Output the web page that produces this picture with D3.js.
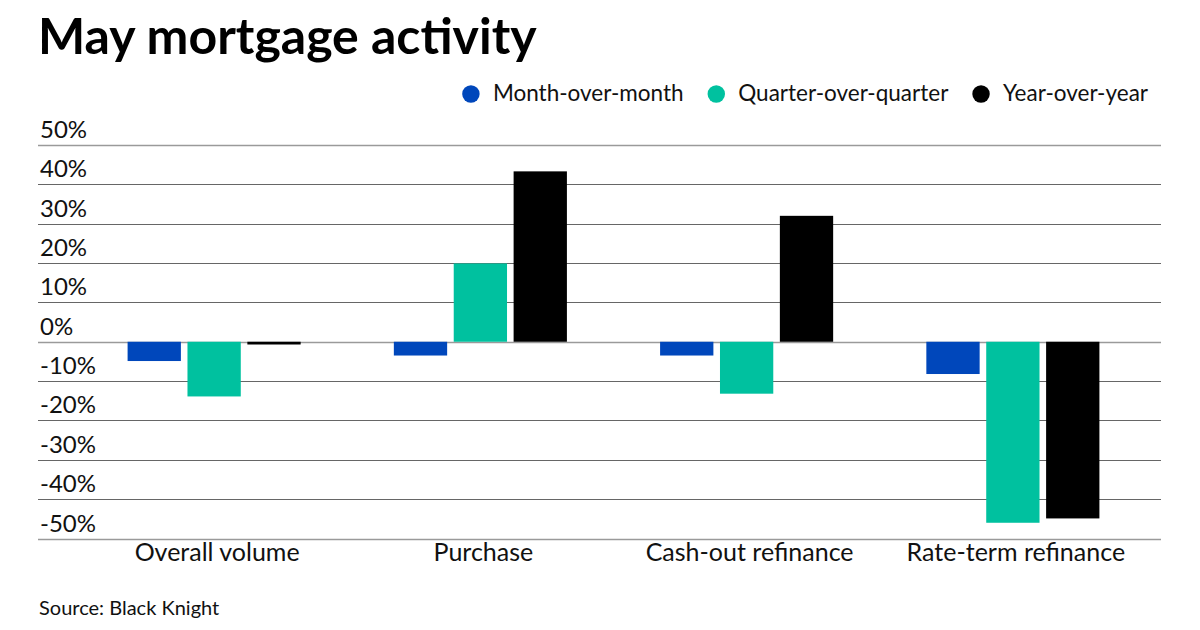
<!DOCTYPE html>
<html>
<head>
<meta charset="utf-8">
<script src="https://cdn.jsdelivr.net/npm/d3@7"></script>
<style>
  body { margin: 0; background: #fff; }
  svg { display: block; font-family: Lato, "Open Sans", sans-serif; }
</style>
</head>
<body>
<svg id="chart"></svg>
<script>
const categories = ["Overall volume", "Purchase", "Cash-out refinance", "Rate-term refinance"];
const seriesNames = ["Month-over-month", "Quarter-over-quarter", "Year-over-year"];
const seriesColors = ["#0047bb", "#00c19f", "#000000"];
const momValues = [-4.9, -3.5, -3.5, -8.2];
const qoqValues = [-13.9, 19.9, -13.2, -46.0];
const yoyValues = [-0.7, 43.3, 32.0, -44.9];
const yTicks = [50, 40, 30, 20, 10, 0, -10, -20, -30, -40, -50];

const ctx = {
  width: 1200,
  height: 630,
  gridLeft: 38,
  gridRight: 1161,
  yTop: 145,
  yBottom: 538.5
};

const svg = d3.select("#chart")
  .attr("width", ctx.width)
  .attr("height", ctx.height);

const rows = categories.map((c, i) => ({
  category: c,
  values: [momValues[i], qoqValues[i], yoyValues[i]]
}));

const y = d3.scaleLinear()
  .domain([-50, 50])
  .range([ctx.yBottom, ctx.yTop]);

const x0 = d3.scaleBand()
  .domain(categories)
  .range([81, 1146])
  .paddingInner(0.35)
  .paddingOuter(0.175);

const x1 = d3.scaleBand()
  .domain(seriesNames)
  .range([0, x0.bandwidth()])
  .paddingInner(0.11);

// title
svg.append("text")
  .attr("x", 38)
  .attr("y", 54)
  .style("font-size", "50px")
  .style("font-weight", "bold")
  .attr("fill", "#000")
  .text("May mortgage activity");

// legend, right aligned
const legend = svg.append("g");
let lx = 1148;
for (let i = seriesNames.length - 1; i >= 0; i--) {
  const t = legend.append("text")
    .attr("y", 101)
    .style("font-size", "22.5px")
    .attr("fill", "#111")
    .text(seriesNames[i]);
  const w = t.node().getComputedTextLength();
  t.attr("x", lx - w);
  legend.append("circle")
    .attr("cx", lx - w - 22)
    .attr("cy", 94)
    .attr("r", 8.7)
    .attr("fill", seriesColors[i]);
  lx = lx - w - 22 - 8.7 - 24;
}

// gridlines + tick labels
svg.append("g")
  .selectAll("line")
  .data(yTicks)
  .join("line")
    .attr("x1", ctx.gridLeft)
    .attr("x2", ctx.gridRight)
    .attr("y1", d => Math.round(y(d)) + 0.5)
    .attr("y2", d => Math.round(y(d)) + 0.5)
    .attr("stroke", d => (d === 0 || d === 50 || d === -50) ? "#9a9a9a" : "#666")
    .attr("stroke-width", d => (d === 0 || d === 50 || d === -50) ? 1.6 : 1);

svg.append("g")
  .selectAll("text")
  .data(yTicks)
  .join("text")
    .attr("x", 40)
    .attr("y", d => y(d) - 7)
    .style("font-size", "24px")
    .attr("fill", "#111")
    .text(d => d + "%");

// bars
const groups = svg.append("g")
  .selectAll("g")
  .data(rows)
  .join("g")
    .attr("transform", d => `translate(${x0(d.category)},0)`);

groups.selectAll("rect")
  .data(d => d.values.map((v, i) => ({ key: seriesNames[i], value: v, color: seriesColors[i] })))
  .join("rect")
    .attr("x", d => x1(d.key))
    .attr("width", x1.bandwidth())
    .attr("y", d => y(Math.max(0, d.value)))
    .attr("height", d => Math.abs(y(d.value) - y(0)))
    .attr("fill", d => d.color);

// category labels
svg.append("g")
  .selectAll("text")
  .data(categories)
  .join("text")
    .attr("x", d => x0(d) + x0.bandwidth() / 2 + 3)
    .attr("y", 561)
    .attr("text-anchor", "middle")
    .style("font-size", "25px")
    .attr("fill", "#111")
    .text(d => d);

// source
svg.append("text")
  .attr("x", 39)
  .attr("y", 615)
  .style("font-size", "20px")
  .attr("fill", "#111")
  .text("Source: Black Knight");
</script>
</body>
</html>
